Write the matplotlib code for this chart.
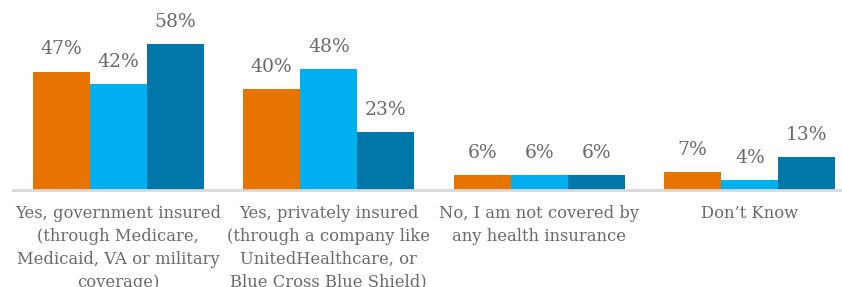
import matplotlib.pyplot as plt
import numpy as np

categories = [
    "Yes, government insured\n(through Medicare,\nMedicaid, VA or military\ncoverage)",
    "Yes, privately insured\n(through a company like\nUnitedHealthcare, or\nBlue Cross Blue Shield)",
    "No, I am not covered by\nany health insurance",
    "Don\u2019t Know",
]
series_a = [47, 40, 6, 7]
series_b = [42, 48, 6, 4]
series_c = [58, 23, 6, 13]

colors = ['#E87400', '#00B0F0', '#0077A8']
text_color = '#6A6A6A'

fig = plt.figure(figsize=(8.42, 2.87), dpi=100)
ax = fig.add_axes([13 / 842, 97 / 287, 829 / 842, 190 / 287])

x = np.arange(len(categories))
w = 0.271
for i, (vals, c) in enumerate(zip([series_a, series_b, series_c], colors)):
    bars = ax.bar(x + (i - 1) * w, vals, width=w, color=c, zorder=2)
    for b, v in zip(bars, vals):
        ax.annotate(f"{v}%", (b.get_x() + b.get_width() / 2, v),
                    xytext=(0, 16), textcoords='offset points',
                    ha='center', va='center', fontsize=13.5,
                    family='DejaVu Serif', color=text_color)

ax.set_xlim(-0.5, 3.438)
ax.set_ylim(0, 75.4)
ax.set_yticks([])
ax.set_xticks(x)
ax.set_xticklabels(categories, fontsize=11.75, family='DejaVu Serif',
                   color=text_color, linespacing=1.45)
ax.tick_params(axis='x', length=0, pad=11)
for s in ['top', 'right', 'left']:
    ax.spines[s].set_visible(False)
ax.spines['bottom'].set_color('#D9D9D9')
ax.spines['bottom'].set_linewidth(2)
ax.patch.set_alpha(0)

fig.savefig('out.png', dpi=100)
